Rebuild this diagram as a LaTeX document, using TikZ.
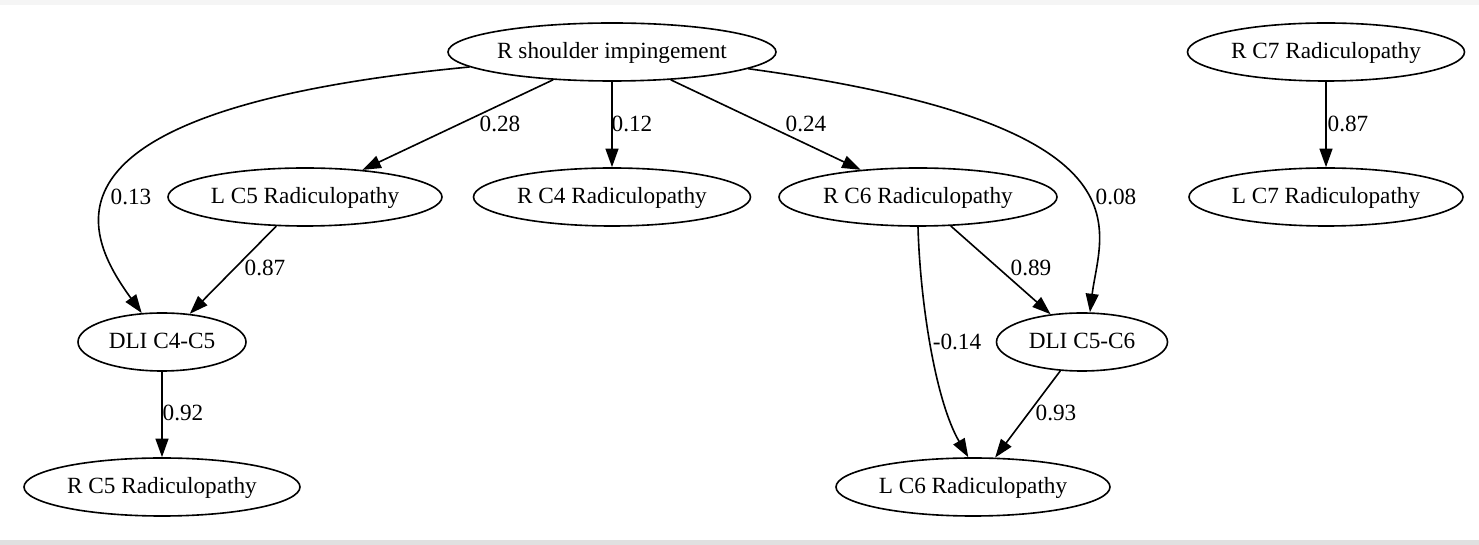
\documentclass[tikz,border=0pt]{standalone}
\usepackage{fontspec}
\setmainfont{Liberation Serif}
\usetikzlibrary{arrows.meta,shapes.geometric}
\newdimen\pxu \pxu=0.62pt
\tikzset{
  gnode/.style={draw, ellipse, line width=1pt, inner sep=0pt, minimum height=58\pxu, text height=11pt, text depth=3pt, font=\fontsize{14.4}{16}\selectfont},
  glabel/.style={inner sep=0pt, font=\fontsize{14.4}{16}\selectfont},
  gedge/.style={line width=1pt, -{Triangle[length=11.5pt,width=8pt]}},
}
\begin{document}
\begin{tikzpicture}[x=0.62pt, y=-0.62pt]
\useasboundingbox (0,0) rectangle (1479,545);
\fill[white] (0,0) rectangle (1479,545);
\fill[black!4] (0,0) rectangle (1479,5);
\fill[black!12] (0,540) rectangle (1479,545);

\node[gnode, minimum width=328\pxu] (rsi) at (612,52) {R shoulder impingement};
\node[gnode, minimum width=277\pxu] (rc7) at (1326,52) {R C7 Radiculopathy};
\node[gnode, minimum width=274\pxu] (lc5) at (305,197) {L C5 Radiculopathy};
\node[gnode, minimum width=277\pxu] (rc4) at (612,197) {R C4 Radiculopathy};
\node[gnode, minimum width=278\pxu] (rc6) at (918,197) {R C6 Radiculopathy};
\node[gnode, minimum width=274\pxu] (lc7) at (1326,197) {L C7 Radiculopathy};
\node[gnode, minimum width=168\pxu] (d45) at (162,342) {DLI C4-C5};
\node[gnode, minimum width=171\pxu] (d56) at (1082,342) {DLI C5-C6};
\node[gnode, minimum width=276\pxu] (rc5) at (162,487) {R C5 Radiculopathy};
\node[gnode, minimum width=274\pxu] (lc6) at (973,487) {L C6 Radiculopathy};

\draw[gedge] (rsi) -- (lc5);
\draw[gedge] (rsi) -- (rc4);
\draw[gedge] (rsi) -- (rc6);
\draw[gedge] (rsi.186) .. controls (20,110) and (85,235) .. (d45.125);
\draw[gedge] (rsi.-7) .. controls (1160,125) and (1100,230) .. (d56.75);
\draw[gedge] (rc7) -- (lc7);
\draw[gedge] (lc5) -- (d45);
\draw[gedge] (rc6) -- (d56);
\draw[gedge] (rc6.-90) .. controls (920,300) and (935,400) .. (lc6.99);
\draw[gedge] (d56) -- (lc6);
\draw[gedge] (d45) -- (rc5);

\node[glabel] (l1) at (500,124) {0.28};
\node[glabel] (l2) at (632,124) {0.12};
\node[glabel] (l3) at (806,124) {0.24};
\node[glabel] (l4) at (131,197) {0.13};
\node[glabel] (l5) at (1116,197) {0.08};
\node[glabel] (l6) at (1348,124) {0.87};
\node[glabel] (l7) at (265,268) {0.87};
\node[glabel] (l8) at (1031,268) {0.89};
\node[glabel] (l9) at (957,342) {-0.14};
\node[glabel] (l10) at (1056,413) {0.93};
\node[glabel] (l11) at (183,413) {0.92};
\end{tikzpicture}
\end{document}
